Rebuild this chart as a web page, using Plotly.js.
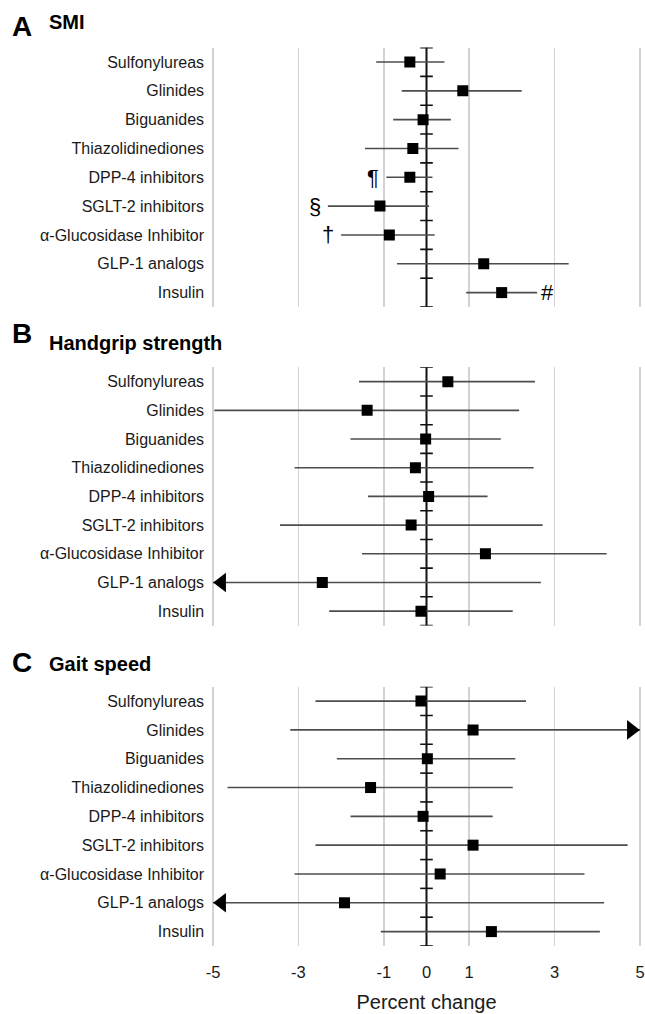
<!DOCTYPE html>
<html>
<head>
<meta charset="utf-8">
<script src="https://cdn.plot.ly/plotly-3.0.1.min.js"></script>
<style>html,body{margin:0;padding:0;background:#fff}#chart{width:645px;height:1014px}</style>
</head>
<body>
<div id="chart"></div>
<script>
// ---------- data ----------
const categories = ['Sulfonylureas','Glinides','Biguanides','Thiazolidinediones','DPP-4 inhibitors','SGLT-2 inhibitors','α-Glucosidase Inhibitor','GLP-1 analogs','Insulin'];
const xTickValues = [-5, -3, -1, 0, 1, 3, 5];
const xTickLabels = ['-5', '-3', '-1', '0', '1', '3', '5'];
const xLimits = [-5, 5];
const panelLetters = ['A', 'B', 'C'];
const panelTitles = ['SMI', 'Handgrip strength', 'Gait speed'];
const xAxisTitle = 'Percent change';

// SMI (null = beyond axis limit, drawn as arrow)
const smiEst = [-0.39, 0.85, -0.08, -0.32, -0.39, -1.09, -0.87, 1.34, 1.76];
const smiLo  = [-1.18, -0.58, -0.78, -1.44, -0.94, -2.31, -2.00, -0.69, 0.93];
const smiHi  = [0.42, 2.23, 0.57, 0.75, 0.14, 0.06, 0.19, 3.33, 2.59];
const smiNotes = ['', '', '', '', '¶', '§', '†', '', '#'];
const smiNoteSide = ['', '', '', '', 'left', 'left', 'left', '', 'right'];

// Handgrip strength
const gripEst = [0.50, -1.39, -0.02, -0.26, 0.05, -0.36, 1.38, -2.44, -0.13];
const gripLo  = [-1.58, -4.97, -1.78, -3.09, -1.37, -3.43, -1.51, null, -2.28];
const gripHi  = [2.54, 2.17, 1.74, 2.51, 1.43, 2.72, 4.22, 2.68, 2.02];
const gripNotes = ['', '', '', '', '', '', '', '', ''];
const gripNoteSide = ['', '', '', '', '', '', '', '', ''];

// Gait speed
const gaitEst = [-0.13, 1.09, 0.02, -1.31, -0.08, 1.09, 0.32, -1.92, 1.52];
const gaitLo  = [-2.60, -3.19, -2.10, -4.66, -1.78, -2.60, -3.09, null, -1.07];
const gaitHi  = [2.33, null, 2.08, 2.02, 1.55, 4.71, 3.70, 4.16, 4.06];
const gaitNotes = ['', '', '', '', '', '', '', '', ''];
const gaitNoteSide = ['', '', '', '', '', '', '', '', ''];

// ---------- layout geometry ----------
const W = 645, H = 1014;
const M = {l: 0, r: 0, t: 0, b: 68};
const plotH = H - M.t - M.b;
const fy = px => 1 - (px - M.t) / plotH;      // pixel from top -> paper y
const fx = px => px / W;                       // pixel from left -> paper x
const leftPx = 213, rightPx = 640;
const pxPerUnit = (rightPx - leftPx) / (xLimits[1] - xLimits[0]);
const pad = 0.04;                              // small axis padding so edge gridlines are kept
const xRange = [xLimits[0] - pad, xLimits[1] + pad];
const xDom = [fx(leftPx - pad * pxPerUnit), Math.min(1, fx(rightPx + pad * pxPerUnit))];
const panelPx = [[47.6, 307], [367.3, 625.5], [686.7, 946]];
const letterY = [27, 333, 662];
const titleY = [22, 343, 664];

const panels = [
  {est: smiEst, lo: smiLo, hi: smiHi, notes: smiNotes, side: smiNoteSide},
  {est: gripEst, lo: gripLo, hi: gripHi, notes: gripNotes, side: gripNoteSide},
  {est: gaitEst, lo: gaitLo, hi: gaitHi, notes: gaitNotes, side: gaitNoteSide}
];

const font = 'Liberation Sans, Arial, Helvetica, sans-serif';
const idx = categories.map((c, i) => i);
const bounds = [];
for (let b = -0.5; b <= categories.length - 0.5; b += 1) bounds.push(b);

const traces = [];
const annotations = [];
const layout = {
  width: W, height: H, margin: M,
  paper_bgcolor: '#fff', plot_bgcolor: '#fff',
  showlegend: false,
  font: {family: font, color: '#1a1a1a'}
};

panels.forEach((p, k) => {
  const s = k === 0 ? '' : String(k + 1);
  const xa = 'x' + s, ya = 'y' + s;
  const loC = p.lo.map(v => v === null ? xLimits[0] : v);
  const hiC = p.hi.map(v => v === null ? xLimits[1] : v);

  // zero line with row-boundary ticks
  traces.push({
    x: bounds.map(() => 0), y: bounds, xaxis: xa, yaxis: ya,
    mode: 'lines+markers', hoverinfo: 'skip',
    line: {color: '#111', width: 2},
    marker: {symbol: 'line-ew', size: 9, color: '#111', line: {color: '#111', width: 1.6}}
  });
  // estimates + CIs
  traces.push({
    x: p.est, y: idx, xaxis: xa, yaxis: ya, mode: 'markers',
    marker: {symbol: 'square', size: 11, color: '#000'},
    error_x: {
      type: 'data', symmetric: false,
      array: hiC.map((h, i) => h - p.est[i]),
      arrayminus: loC.map((l, i) => p.est[i] - l),
      color: '#4d4d4d', thickness: 1.6, width: 0
    }
  });
  // arrows for CIs beyond the axis
  const off = 8.7 / pxPerUnit;
  const ax = [], ay = [], asym = [];
  p.lo.forEach((v, i) => { if (v === null) { ax.push(xLimits[0] + off); ay.push(i); asym.push('triangle-left'); } });
  p.hi.forEach((v, i) => { if (v === null) { ax.push(xLimits[1] - off); ay.push(i); asym.push('triangle-right'); } });
  if (ax.length) {
    traces.push({x: ax, y: ay, xaxis: xa, yaxis: ya, mode: 'markers', cliponaxis: false,
      marker: {symbol: asym, size: 17, color: '#000'}});
  }

  const last = k === panels.length - 1;
  layout['xaxis' + s] = {
    domain: xDom, range: xRange, anchor: ya, fixedrange: true,
    tickmode: 'array', tickvals: xTickValues, ticktext: xTickLabels,
    showgrid: true, gridcolor: '#d3d3d3', gridwidth: 1.5,
    zeroline: false, showline: false,
    showticklabels: last, ticklabeloverflow: 'allow',
    ticks: last ? 'outside' : '', ticklen: 11, tickcolor: 'rgba(0,0,0,0)',
    tickfont: {size: 16.5, family: font, color: '#1a1a1a'},
    title: last ? {text: xAxisTitle, font: {size: 20, family: font, color: '#1a1a1a'}, standoff: 15} : {text: ''}
  };
  layout['yaxis' + s] = {
    domain: [fy(panelPx[k][1]), fy(panelPx[k][0])],
    range: [categories.length - 0.5, -0.5], anchor: xa, fixedrange: true,
    tickmode: 'array', tickvals: idx, ticktext: categories,
    showgrid: false, zeroline: false, showline: false,
    ticks: 'outside', ticklen: 3, tickcolor: 'rgba(0,0,0,0)',
    tickfont: {size: 16, family: font, color: '#1a1a1a'}
  };

  annotations.push({text: '<b>' + panelLetters[k] + '</b>', xref: 'paper', yref: 'paper',
    x: fx(10), y: fy(letterY[k]), xanchor: 'left', yanchor: 'middle', showarrow: false,
    font: {size: 28, family: font, color: '#000'}});
  annotations.push({text: '<b>' + panelTitles[k] + '</b>', xref: 'paper', yref: 'paper',
    x: fx(47), y: fy(titleY[k]), xanchor: 'left', yanchor: 'middle', showarrow: false,
    font: {size: 20, family: font, color: '#000'}});

  p.notes.forEach((n, i) => {
    if (!n) return;
    const left = p.side[i] === 'left';
    annotations.push({text: n, xref: xa, yref: ya, x: left ? loC[i] : hiC[i], y: i,
      xanchor: left ? 'right' : 'left', yanchor: 'middle', xshift: left ? -5 : 2, showarrow: false,
      font: {size: 22, family: font, color: '#000'}});
  });
});

layout.annotations = annotations;
Plotly.newPlot('chart', traces, layout, {displayModeBar: false, staticPlot: true});
</script>
</body>
</html>
